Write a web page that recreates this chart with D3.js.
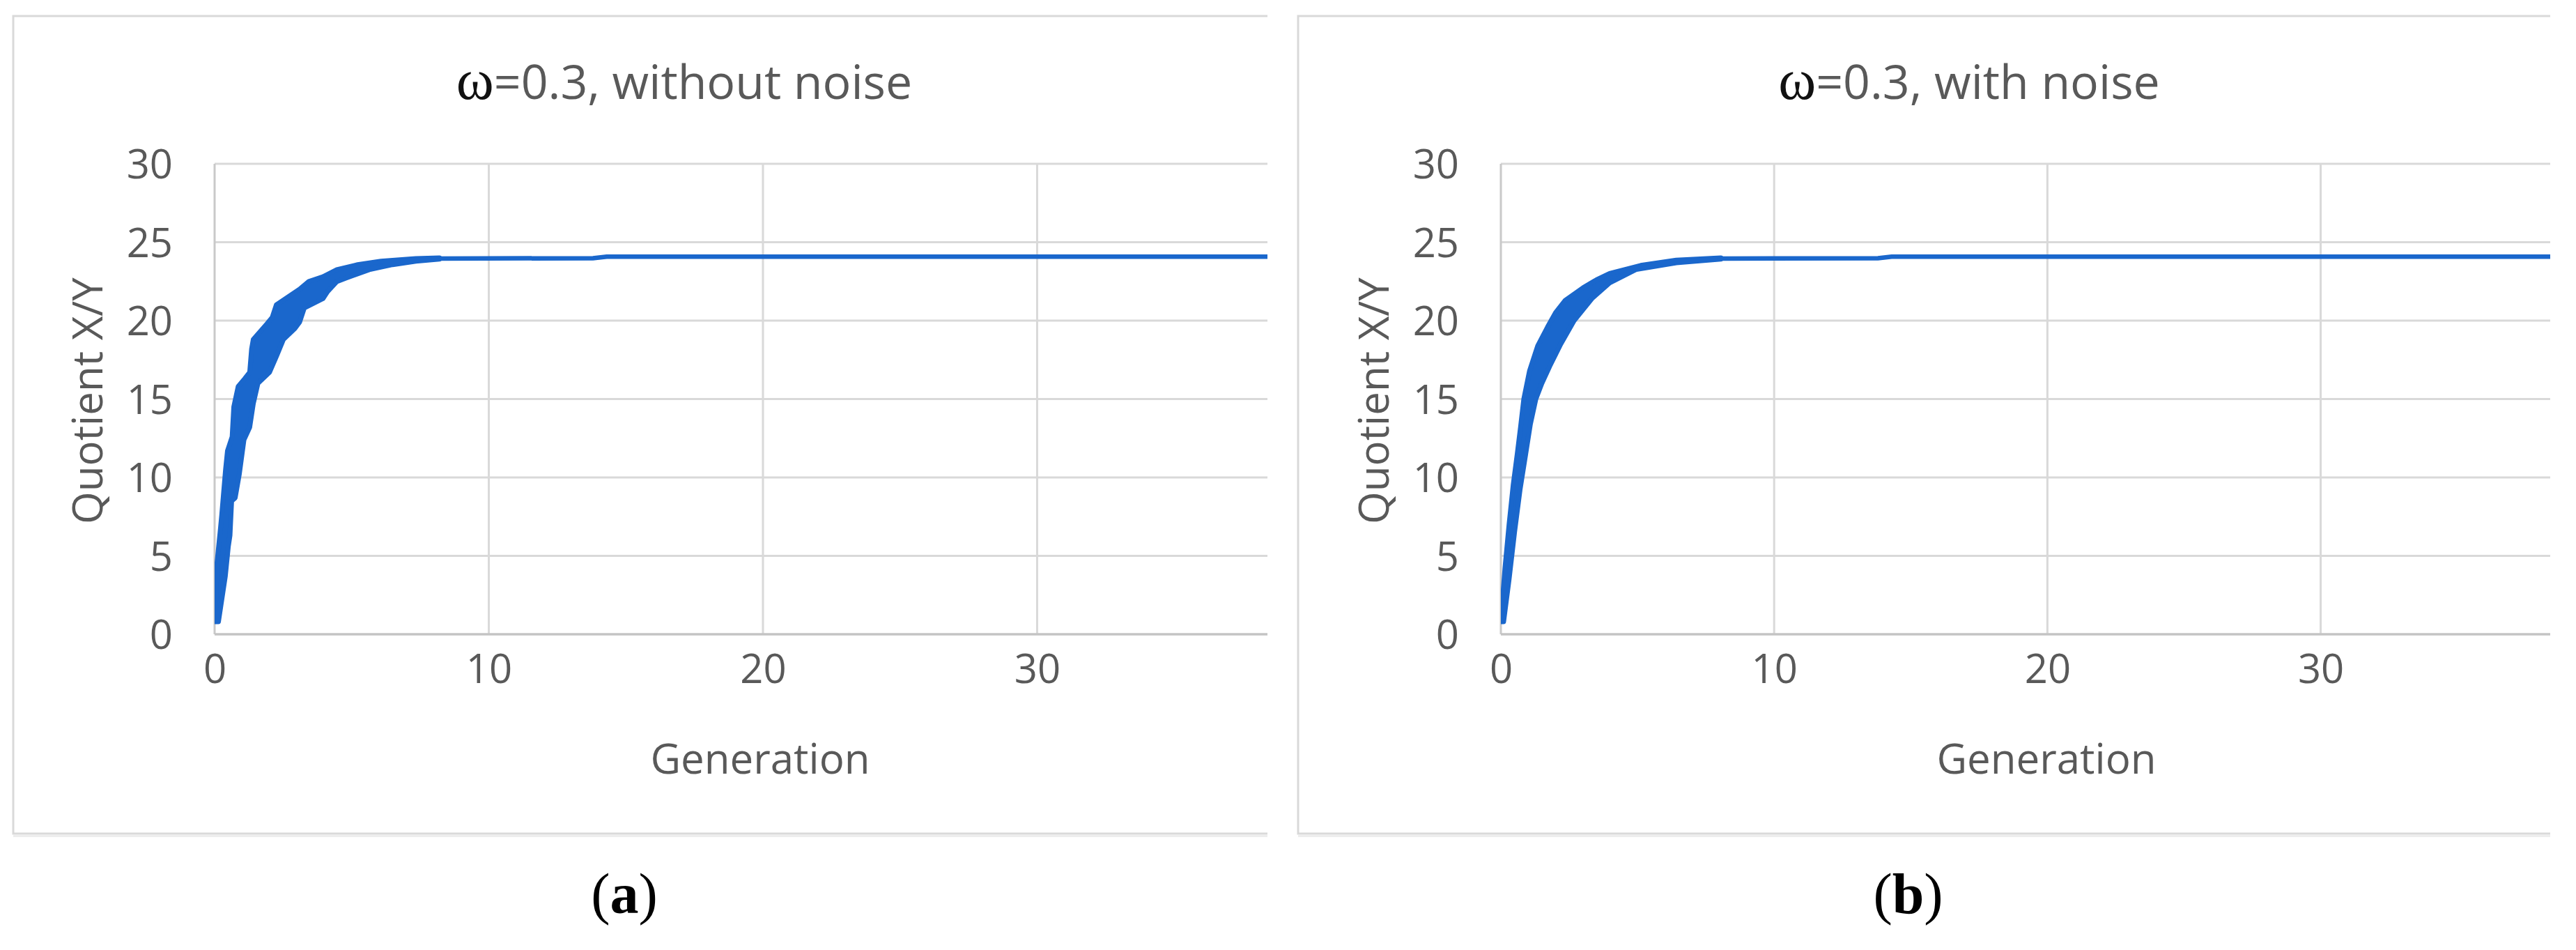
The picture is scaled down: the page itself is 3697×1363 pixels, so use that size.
<!DOCTYPE html>
<html><head><meta charset="utf-8">
<script src="https://cdn.jsdelivr.net/npm/d3@7"></script>
<style>body{margin:0;background:#fff}svg{display:block}</style>
</head><body>
<svg id="chart" width="3697" height="1363"></svg>
<script>
// ---------- data ----------
const xTicks = [0, 10, 20, 30];
const yTicks = [0, 5, 10, 15, 20, 25, 30];
const xMax = 38.4;
const yMax = 30;
const titleSymbol = "ω";
const titlesRest = ["=0.3, without noise", "=0.3, with noise"];
const captionLetters = ["a", "b"];
const xLabel = "Generation";
const yLabel = "Quotient X/Y";

// panel (a): envelope of the noisy trace, without noise
const upperA = [[0.01,0.8],[0.09,4.6],[0.2,6.5],[0.26,7.6],[0.4,10.5],[0.47,11.7],[0.64,12.6],[0.7,14.5],[0.86,15.8],[1.1,16.3],[1.28,16.7],[1.35,18.2],[1.41,18.8],[1.66,19.3],[1.91,19.8],[2.1,20.2],[2.25,21.0],[2.59,21.4],[3.1,22.0],[3.44,22.5],[3.95,22.8],[4.46,23.25],[5.22,23.57],[6.07,23.79],[7.34,23.96],[8.2,24.0]];
const lowerA = [[0.14,0.8],[0.39,3.7],[0.5,5.6],[0.56,6.3],[0.62,8.5],[0.75,8.7],[0.9,10.2],[1.07,12.4],[1.28,13.2],[1.41,14.7],[1.58,16.0],[2.0,16.7],[2.25,17.7],[2.51,18.8],[2.93,19.5],[3.1,19.9],[3.27,20.8],[3.95,21.4],[4.12,21.85],[4.46,22.49],[4.79,22.71],[5.64,23.25],[6.49,23.57],[7.34,23.79],[8.2,23.92]];
const plateauA = [[8.0,23.96],[13.8,23.98],[14.3,24.08],[38.4,24.08]];

// panel (b): envelope of the noisy trace, with noise
const upperB = [[0.0,0.8],[0.05,2.0],[0.15,4.2],[0.3,7.0],[0.45,9.5],[0.6,11.5],[0.72,13.2],[0.84,15.0],[1.05,16.8],[1.35,18.4],[1.71,19.6],[2.0,20.5],[2.36,21.3],[3.01,22.1],[3.5,22.6],[3.98,23.0],[5.12,23.52],[6.42,23.86],[8.05,24.0]];
const lowerB = [[0.1,0.8],[0.3,3.5],[0.5,6.5],[0.7,9.2],[0.9,11.4],[1.08,13.4],[1.28,15.0],[1.5,16.0],[1.79,17.1],[2.19,18.5],[2.68,20.0],[3.33,21.4],[3.98,22.41],[4.96,23.27],[6.42,23.69],[8.05,23.92]];
const plateauB = [[8.0,23.96],[13.8,23.98],[14.3,24.08],[38.4,24.08]];

const upperSets = [upperA, upperB];
const lowerSets = [lowerA, lowerB];
const plateauSets = [plateauA, plateauB];

// ---------- layout ----------
const svg = d3.select("#chart");
svg.append("rect").attr("width", 3697).attr("height", 1363).attr("fill", "#fff");

const panelLefts = [19, 1863];
const panelRights = [1819, 3660];
const plotLefts = [308, 2154];
const plotTop = 235, plotBottom = 910;
const textCol = "#595959";
const lineCol = "#1a67cc";
const font = "'Open Sans', 'Noto Sans', sans-serif";

panelLefts.forEach((pl, i) => {
  const pr = panelRights[i];
  const g = svg.append("g");

  // panel frame (left, top, bottom; right side cropped)
  g.append("path")
    .attr("d", `M${pr},23 H${pl} V1196 H${pr}`)
    .attr("fill", "none").attr("stroke", "#d9d9d9").attr("stroke-width", 3);
  g.append("line").attr("x1", pl).attr("x2", pr).attr("y1", 1199.5).attr("y2", 1199.5)
    .attr("stroke", "#ededed").attr("stroke-width", 3);

  const x = d3.scaleLinear().domain([0, xMax]).range([plotLefts[i], pr]);
  const y = d3.scaleLinear().domain([0, yMax]).range([plotBottom, plotTop]);

  const clipId = "clip" + i;
  svg.append("clipPath").attr("id", clipId).append("rect")
    .attr("x", plotLefts[i]).attr("y", plotTop - 10)
    .attr("width", pr - plotLefts[i]).attr("height", plotBottom - plotTop + 10);

  // horizontal gridlines
  g.append("g").selectAll("line").data(yTicks.filter(d => d > 0)).join("line")
    .attr("x1", x(0)).attr("x2", pr)
    .attr("y1", d => y(d)).attr("y2", d => y(d))
    .attr("stroke", "#d9d9d9").attr("stroke-width", 3);
  // vertical gridlines
  g.append("g").selectAll("line").data(xTicks.filter(d => d > 0)).join("line")
    .attr("x1", d => x(d)).attr("x2", d => x(d))
    .attr("y1", y(yMax)).attr("y2", y(0))
    .attr("stroke", "#d9d9d9").attr("stroke-width", 3);
  // axis lines
  g.append("line").attr("x1", x(0)).attr("x2", x(0)).attr("y1", y(yMax)).attr("y2", y(0))
    .attr("stroke", "#c9c9c9").attr("stroke-width", 3);
  g.append("line").attr("x1", x(0)).attr("x2", pr).attr("y1", y(0)).attr("y2", y(0))
    .attr("stroke", "#c4c4c4").attr("stroke-width", 3.5);

  // tick labels via d3 axes (no domain / tick lines)
  const yAxis = d3.axisLeft(y).tickValues(yTicks).tickSize(0).tickPadding(60).tickFormat(d3.format("d"));
  const ya = g.append("g").attr("transform", `translate(${x(0)},0)`).call(yAxis);
  ya.select(".domain").remove();
  ya.selectAll("text").attr("font-family", font).attr("font-size", 58).attr("fill", textCol)
    .attr("dy", "0.36em");

  const xAxis = d3.axisBottom(x).tickValues(xTicks).tickSize(0).tickPadding(64).tickFormat(d3.format("d"));
  const xa = g.append("g").attr("transform", `translate(0,${y(0)})`).call(xAxis);
  xa.select(".domain").remove();
  xa.selectAll("text").attr("font-family", font).attr("font-size", 58).attr("fill", textCol)
    .attr("dy", "0.1em");

  // data band (envelope of the dense trace) and plateau line
  const lineGen = d3.line().x(d => x(d[0])).y(d => y(d[1]));
  const poly = upperSets[i].concat(lowerSets[i].slice().reverse());
  const dg = g.append("g").attr("clip-path", `url(#${clipId})`);
  dg.append("path").attr("d", lineGen.curve(d3.curveLinearClosed)(poly))
    .attr("fill", lineCol).attr("stroke", lineCol).attr("stroke-width", 7)
    .attr("stroke-linejoin", "round");
  dg.append("path").attr("d", d3.line().x(d => x(d[0])).y(d => y(d[1]))(plateauSets[i]))
    .attr("fill", "none").attr("stroke", lineCol).attr("stroke-width", 6.5)
    .attr("stroke-linecap", "round");

  // title
  const t = g.append("text").attr("x", pl + 963).attr("y", 142)
    .attr("text-anchor", "middle").attr("font-family", font).attr("font-size", 68).attr("fill", textCol);
  t.append("tspan").attr("font-family", "'Liberation Serif', 'Times New Roman', serif")
    .attr("font-size", 82).attr("fill", "#111").text(titleSymbol);
  t.append("tspan").text(titlesRest[i]);

  // axis titles
  g.append("text").attr("x", plotLefts[i] + 783).attr("y", 1110)
    .attr("text-anchor", "middle").attr("font-family", font).attr("font-size", 60)
    .attr("fill", textCol).text(xLabel);
  g.append("text").attr("transform", `translate(${plotLefts[i] - 161},575) rotate(-90)`)
    .attr("text-anchor", "middle").attr("font-family", font).attr("font-size", 60)
    .attr("fill", textCol).text(yLabel);

  // caption
  const c = svg.append("text").attr("x", (pl + pr) / 2 - 23).attr("y", 1310)
    .attr("text-anchor", "middle").attr("font-family", "'Liberation Serif', 'Times New Roman', serif")
    .attr("font-size", 82).attr("fill", "#000");
  c.append("tspan").text("(");
  c.append("tspan").attr("font-weight", "bold").text(captionLetters[i]);
  c.append("tspan").text(")");
});
</script>
</body></html>
